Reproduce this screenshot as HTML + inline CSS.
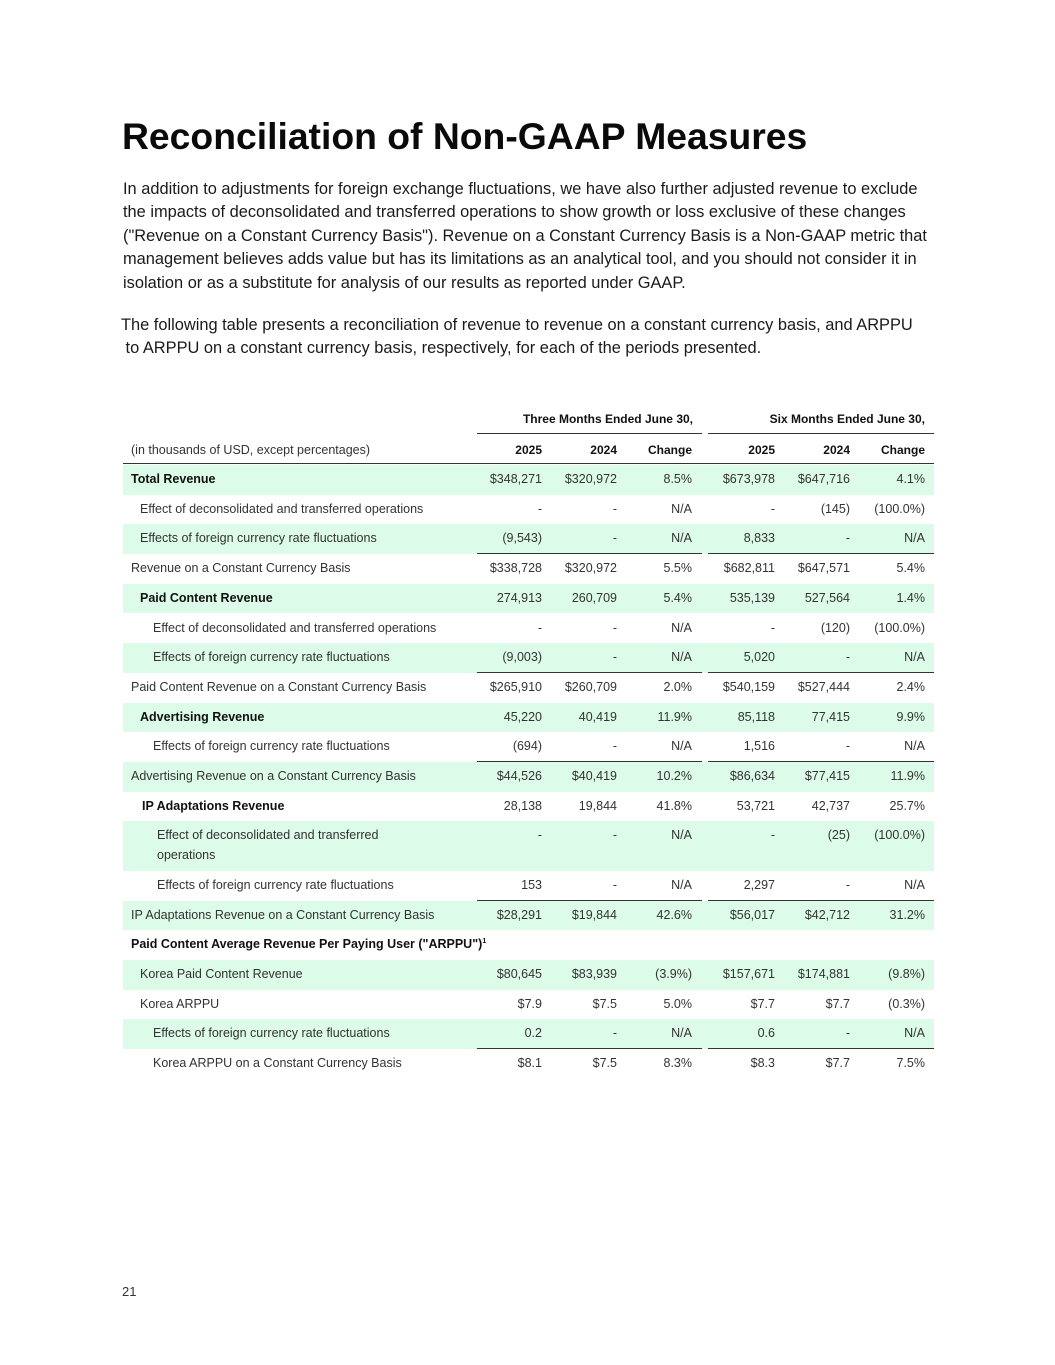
<!DOCTYPE html>
<html><head><meta charset="utf-8"><style>
body{margin:0;background:#fff;width:1055px;height:1365px;position:relative;overflow:hidden;font-family:"Liberation Sans",sans-serif;color:#111}
.a{position:absolute;white-space:nowrap}
h1{position:absolute;left:122px;top:115px;margin:0;font-size:37.3px;font-weight:bold;letter-spacing:0px;color:#0a0a0a}
.p{position:absolute;left:123px;font-size:16.4px;line-height:23.4px;color:#1a1a1a;white-space:nowrap}
.r{position:absolute;left:123px;width:811px;font-size:12.5px;color:#333}
.g{background:#dcfbe8}
.r span{position:absolute;top:0;white-space:nowrap;line-height:20px}
.n{text-align:right}
.b{font-weight:bold;color:#111}
.ln{position:absolute;height:1.3px;background:#333}
</style></head><body>
<h1>Reconciliation of Non-GAAP Measures</h1>
<div class="p" style="top:178px">In addition to adjustments for foreign exchange fluctuations, we have also further adjusted revenue to exclude<br>the impacts of deconsolidated and transferred operations to show growth or loss exclusive of these changes<br>("Revenue on a Constant Currency Basis"). Revenue on a Constant Currency Basis is a Non-GAAP metric that<br>management believes adds value but has its limitations as an analytical tool, and you should not consider it in<br>isolation or as a substitute for analysis of our results as reported under GAAP.</div>
<div class="p" style="top:314px;left:121px">The following table presents a reconciliation of revenue to revenue on a constant currency basis, and ARPPU<br>&nbsp;to ARPPU on a constant currency basis, respectively, for each of the periods presented.</div>

<div class="a b" style="font-size:12px;right:362px;top:412px">Three Months Ended June 30,</div>
<div class="a b" style="font-size:12px;right:130px;top:412px">Six Months Ended June 30,</div>
<div class="ln" style="left:477px;width:225px;top:433px"></div>
<div class="ln" style="left:708px;width:226px;top:433px"></div>
<div class="a" style="font-size:12.5px;left:131px;top:443px;color:#333">(in thousands of USD, except percentages)</div>
<div class="a b" style="font-size:12px;right:513px;top:443px">2025</div>
<div class="a b" style="font-size:12px;right:438px;top:443px">2024</div>
<div class="a b" style="font-size:12px;right:363px;top:443px">Change</div>
<div class="a b" style="font-size:12px;right:280px;top:443px">2025</div>
<div class="a b" style="font-size:12px;right:205px;top:443px">2024</div>
<div class="a b" style="font-size:12px;right:130px;top:443px">Change</div>
<div class="ln" style="left:123px;width:811px;top:463px"></div>

<div id="t"></div>
<script>
var rows=[
["Total Revenue",8,1,1,"$348,271","$320,972","8.5%","$673,978","$647,716","4.1%"],
["Effect of deconsolidated and transferred operations",17,0,0,"-","-","N/A","-","(145)","(100.0%)"],
["Effects of foreign currency rate fluctuations",17,0,1,"(9,543)","-","N/A","8,833","-","N/A",1],
["Revenue on a Constant Currency Basis",8,0,0,"$338,728","$320,972","5.5%","$682,811","$647,571","5.4%"],
["Paid Content Revenue",17,1,1,"274,913","260,709","5.4%","535,139","527,564","1.4%"],
["Effect of deconsolidated and transferred operations",30,0,0,"-","-","N/A","-","(120)","(100.0%)"],
["Effects of foreign currency rate fluctuations",30,0,1,"(9,003)","-","N/A","5,020","-","N/A",1],
["Paid Content Revenue on a Constant Currency Basis",8,0,0,"$265,910","$260,709","2.0%","$540,159","$527,444","2.4%"],
["Advertising Revenue",17,1,1,"45,220","40,419","11.9%","85,118","77,415","9.9%"],
["Effects of foreign currency rate fluctuations",30,0,0,"(694)","-","N/A","1,516","-","N/A",1],
["Advertising Revenue on a Constant Currency Basis",8,0,1,"$44,526","$40,419","10.2%","$86,634","$77,415","11.9%"],
["IP Adaptations Revenue",19,1,0,"28,138","19,844","41.8%","53,721","42,737","25.7%"],
["Effect of deconsolidated and transferred<br>operations",34,0,1,"-","-","N/A","-","(25)","(100.0%)",0,1],
["Effects of foreign currency rate fluctuations",34,0,0,"153","-","N/A","2,297","-","N/A",1],
["IP Adaptations Revenue on a Constant Currency Basis",8,0,1,"$28,291","$19,844","42.6%","$56,017","$42,712","31.2%"],
["Paid Content Average Revenue Per Paying User (\"ARPPU\")<sup style='font-size:7px;line-height:0'>1</sup>",8,1,0,"","","","","",""],
["Korea Paid Content Revenue",17,0,1,"$80,645","$83,939","(3.9%)","$157,671","$174,881","(9.8%)"],
["Korea ARPPU",17,0,0,"$7.9","$7.5","5.0%","$7.7","$7.7","(0.3%)"],
["Effects of foreign currency rate fluctuations",30,0,1,"0.2","-","N/A","0.6","-","N/A",1],
["Korea ARPPU on a Constant Currency Basis",30,0,0,"$8.1","$7.5","8.3%","$8.3","$7.7","7.5%"]
];
var rights=[542,617,692,775,850,925],y=465,h="";
rows.forEach(function(r){
 var ht=r[11]?49.5:29.7;
 h+='<div class="r'+(r[3]?' g':'')+'" style="top:'+y+'px;height:'+ht+'px">';
 h+='<span class="'+(r[2]?'b':'')+'" style="left:'+r[1]+'px;top:4px">'+r[0]+'</span>';
 for(var i=0;i<6;i++){h+='<span class="n" style="right:'+(934-rights[i])+'px;top:4px">'+r[4+i]+'</span>';}
 h+='</div>';
 y+=ht;
 if(r[10]){h+='<div class="ln" style="left:477px;width:225px;top:'+(y-1)+'px"></div><div class="ln" style="left:708px;width:226px;top:'+(y-1)+'px"></div>';}
});
document.getElementById('t').innerHTML=h;
</script>
<div class="a" style="left:122px;top:1284px;font-size:13px;color:#333">21</div>
</body></html>
